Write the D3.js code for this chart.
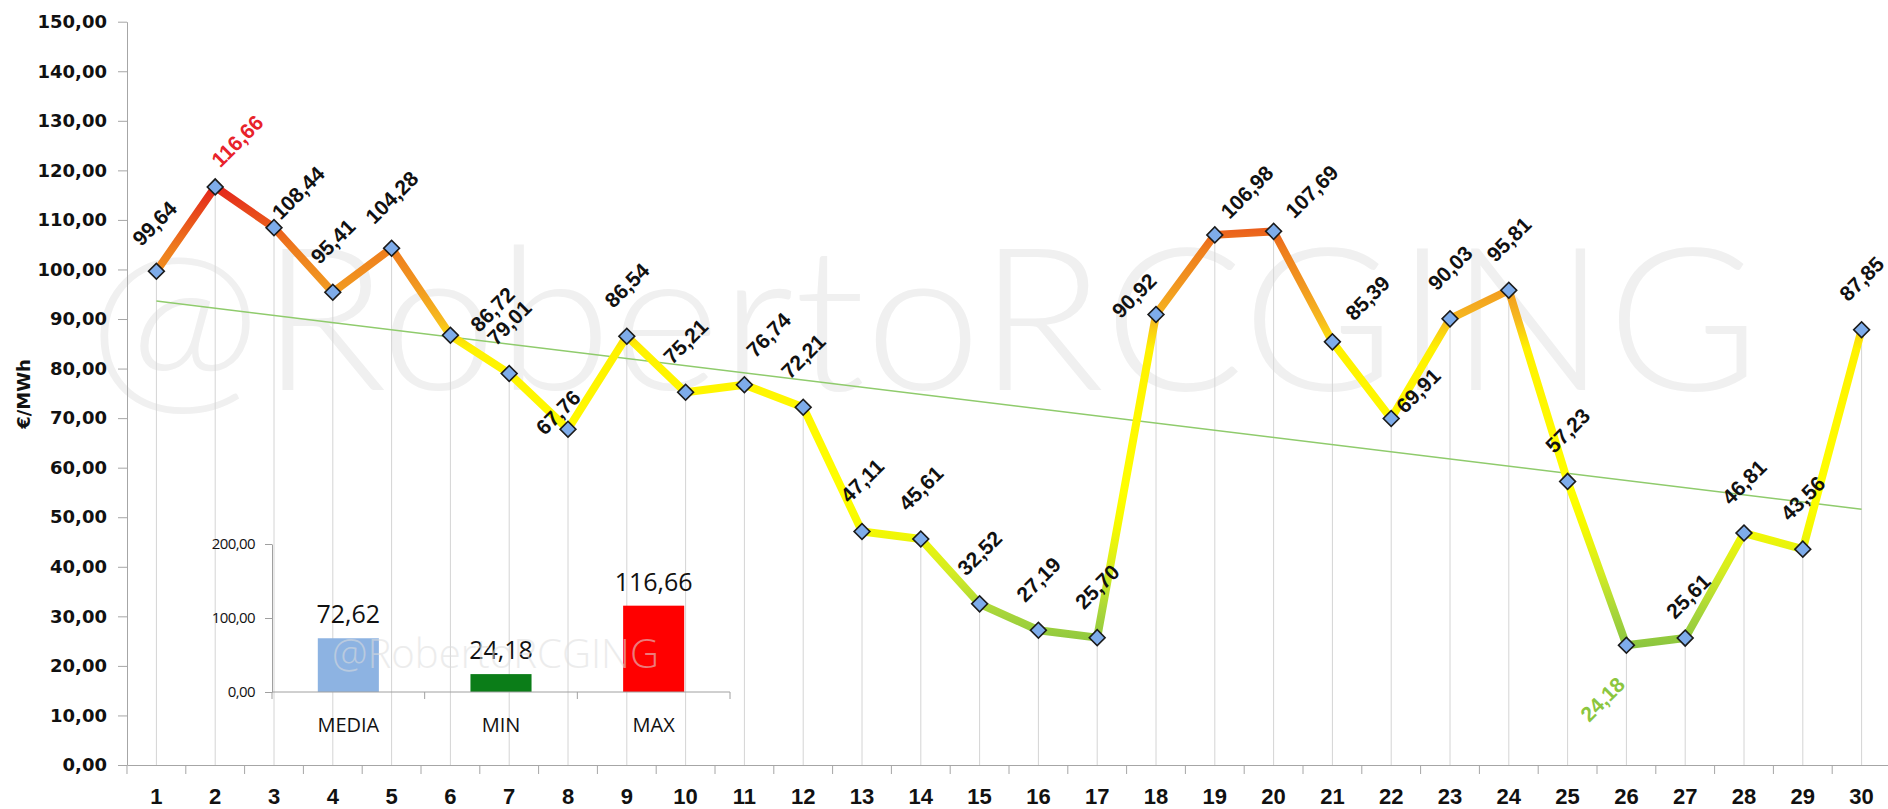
<!DOCTYPE html>
<html>
<head>
<meta charset="utf-8">
<script src="https://cdn.jsdelivr.net/npm/d3@7"></script>
<style>
    html, body { margin: 0; padding: 0; background: #fff; }
    svg { display: block; }
    .tick-y text, .ytitle { font-family: "DejaVu Sans", sans-serif; font-weight: 700; }
    .dlabel { font-family: "Liberation Sans", Arial, sans-serif; font-weight: 700; }
    .tick-x text { font-family: "Liberation Sans", Arial, sans-serif; font-weight: 700; }
    .inset text { font-family: "Open Sans", sans-serif; }
</style>
</head>
<body>
<svg id="chart" width="1888" height="809"></svg>
<script>
// daily price, €/MWh
const days = [1, 2, 3, 4, 5, 6, 7, 8, 9, 10, 11, 12, 13, 14, 15, 16, 17, 18, 19, 20, 21, 22, 23, 24, 25, 26, 27, 28, 29, 30];
const prices = [99.64, 116.66, 108.44, 95.41, 104.28, 86.72, 79.01, 67.76, 86.54, 75.21, 76.74, 72.21, 47.11, 45.61, 32.52,
    27.19, 25.70, 90.92, 106.98, 107.69, 85.39, 69.91, 90.03, 95.81, 57.23, 24.18, 25.61, 46.81, 43.56, 87.85];
const yTicks = [0, 10, 20, 30, 40, 50, 60, 70, 80, 90, 100, 110, 120, 130, 140, 150];

// inset summary
const statNames = ["MEDIA", "MIN", "MAX"];
const statValues = [72.62, 24.18, 116.66];
const statColors = ["#8db3e2", "#0b7d18", "#ff0000"];
const insetTicks = [0, 100, 200];

// colour of the line by price level
const gradStops = [
    [0, "#7fc244"], [24, "#8cc63f"], [31, "#a8d63a"], [39, "#d4ec22"], [48, "#f6f900"], [55, "#ffff00"],
    [84, "#fff200"], [90, "#f6b81f"], [97, "#f19620"], [104, "#ee7d1d"], [110, "#e9521b"], [117, "#e3231b"], [150, "#e3231b"],
];

// label nudges (dx, dy from the point) where the original labels were moved by hand
const labelNudge = {
    1: [-2, -48], 2: [22, -46], 3: [24, -35], 6: [42, -26], 8: [-10, -17], 11: [24, -50],
    18: [-22, -19], 19: [32, -43], 20: [38, -40], 21: [35, -44], 22: [27, -28], 26: [-24, 54], 27: [3, -42],
};

const fmt = (v) => d3.format(".2f")(v).replace(".", ",");

const svg = d3.select("#chart");
const x = d3.scaleBand().domain(days).range([127, 1891]);
const bw = x.bandwidth();
const cx = (d) => x(d) + bw / 2;
const y = d3.scaleLinear().domain([0, 150]).range([765, 21.7]);

const pts = days.map((d, i) => ({ day: d, v: prices[i] }));

// watermark
svg.append("text")
    .attr("x", 88).attr("y", 390)
    .attr("textLength", 1672).attr("lengthAdjust", "spacingAndGlyphs")
    .attr("font-family", "Lato, 'Open Sans', sans-serif").attr("font-weight", 300)
    .attr("font-size", 200).attr("fill", "#f0f0f0")
    .text("@RobertoRCGING");

// drop lines
svg.append("g").selectAll("line").data(pts).join("line")
    .attr("x1", (d) => cx(d.day)).attr("x2", (d) => cx(d.day))
    .attr("y1", (d) => y(d.v)).attr("y2", y(0))
    .attr("stroke", "#d4d4d4").attr("stroke-width", 1);

// linear trend line
const mx = d3.mean(days), my = d3.mean(prices);
const slope = d3.sum(days, (d, i) => (d - mx) * (prices[i] - my)) / d3.sum(days, (d) => (d - mx) ** 2);
const icpt = my - slope * mx;
svg.append("line")
    .attr("x1", cx(days[0])).attr("y1", y(icpt + slope * days[0]))
    .attr("x2", cx(days[days.length - 1])).attr("y2", y(icpt + slope * days[days.length - 1]))
    .attr("stroke", "#8fcb6c").attr("stroke-width", 1.5);

// inset bar chart
const inset = svg.append("g").attr("class", "inset");
const xi = d3.scaleBand().domain(statNames).range([272, 730]);
const yi = d3.scaleLinear().domain([0, 200]).range([692, 544]);
const barW = xi.bandwidth() * 0.4;

inset.selectAll("rect").data(statNames).join("rect")
    .attr("x", (d) => xi(d) + xi.bandwidth() / 2 - barW / 2)
    .attr("y", (d, i) => yi(statValues[i]))
    .attr("width", barW)
    .attr("height", (d, i) => yi(0) - yi(statValues[i]))
    .attr("fill", (d, i) => statColors[i]);

inset.selectAll(".sval").data(statNames).join("text")
    .attr("class", "sval")
    .attr("x", (d) => xi(d) + xi.bandwidth() / 2)
    .attr("y", (d, i) => yi(statValues[i]) - 15)
    .attr("text-anchor", "middle").attr("font-size", 25).attr("fill", "#111")
    .text((d, i) => fmt(statValues[i]));

inset.selectAll(".sname").data(statNames).join("text")
    .attr("class", "sname")
    .attr("x", (d) => xi(d) + xi.bandwidth() / 2)
    .attr("y", 732)
    .attr("text-anchor", "middle").attr("font-size", 20).attr("fill", "#111")
    .text((d) => d);

const giy = inset.append("g").attr("transform", "translate(272,0)")
    .call(d3.axisLeft(yi).tickValues(insetTicks).tickSize(7).tickSizeOuter(0).tickPadding(10).tickFormat(fmt));
giy.select(".domain").attr("stroke", "#a0a0a0");
giy.selectAll(".tick line").attr("stroke", "#a0a0a0");
giy.selectAll(".tick text").attr("font-size", 15).attr("letter-spacing", -0.6).attr("fill", "#111")
    .attr("font-family", "'Open Sans', sans-serif");

const gix = inset.append("g").attr("transform", `translate(0,${yi(0)})`);
gix.append("line").attr("x1", 272).attr("x2", 730).attr("stroke", "#a0a0a0");
gix.selectAll(".bt").data(statNames.concat(["end"])).join("line")
    .attr("class", "bt")
    .attr("x1", (d, i) => xi.range()[0] + i * xi.step()).attr("x2", (d, i) => xi.range()[0] + i * xi.step())
    .attr("y1", 0).attr("y2", 7).attr("stroke", "#a0a0a0");

inset.append("text")
    .attr("x", 332).attr("y", 668)
    .attr("textLength", 327).attr("lengthAdjust", "spacingAndGlyphs")
    .attr("font-family", "Lato, 'Open Sans', sans-serif").attr("font-weight", 300)
    .attr("font-size", 40).attr("fill", "#dedede").attr("opacity", 0.55)
    .text("@RobertoRCGING");

// gradient for the price line
const grad = svg.append("defs").append("linearGradient")
    .attr("id", "lineGrad").attr("gradientUnits", "userSpaceOnUse")
    .attr("x1", 0).attr("x2", 0).attr("y1", y(0)).attr("y2", y(150));
grad.selectAll("stop").data(gradStops).join("stop")
    .attr("offset", (d) => d[0] / 150)
    .attr("stop-color", (d) => d[1]);

const line = d3.line().x((d) => cx(d.day)).y((d) => y(d.v));
svg.append("path")
    .datum(pts)
    .attr("d", line)
    .attr("fill", "none")
    .attr("stroke", "url(#lineGrad)")
    .attr("stroke-width", 8)
    .attr("stroke-linejoin", "round");

svg.append("g").selectAll("path").data(pts).join("path")
    .attr("d", d3.symbol(d3.symbolSquare, 125))
    .attr("transform", (d) => `translate(${cx(d.day)},${y(d.v)}) rotate(45)`)
    .attr("fill", "#7eacea")
    .attr("stroke", "#1b1b1b")
    .attr("stroke-width", 1.6);

// data labels
const vMax = d3.max(prices), vMin = d3.min(prices);
svg.append("g").selectAll("text").data(pts).join("text")
    .attr("class", "dlabel")
    .attr("transform", (d) => {
        const n = labelNudge[d.day] || [0, -51];
        return `translate(${cx(d.day) + n[0]},${y(d.v) + n[1]}) rotate(-45)`;
    })
    .attr("text-anchor", "middle")
    .attr("dy", "0.36em")
    .attr("font-size", 21)
    .attr("fill", (d) => d.v === vMax ? "#e8232b" : d.v === vMin ? "#8cc63f" : "#111")
    .text((d) => fmt(d.v));

// axes
const gy = svg.append("g").attr("class", "tick-y").attr("transform", "translate(127,0)")
    .call(d3.axisLeft(y).tickValues(yTicks).tickSize(9).tickSizeOuter(0).tickPadding(11).tickFormat(fmt));
gy.select(".domain").attr("stroke", "#a6a6a6");
gy.selectAll(".tick line").attr("stroke", "#a6a6a6");
gy.selectAll(".tick text").attr("font-size", 18).attr("fill", "#111");

const gx = svg.append("g").attr("class", "tick-x").attr("transform", `translate(0,${y(0)})`)
    .call(d3.axisBottom(x).tickSize(9).tickSizeOuter(0).tickPadding(14));
gx.select(".domain").attr("stroke", "#a6a6a6");
gx.selectAll(".tick line").attr("stroke", "#a6a6a6").attr("transform", `translate(${-bw / 2},0)`);
gx.selectAll(".tick text").attr("font-size", 22).attr("fill", "#111");

svg.append("text")
    .attr("class", "ytitle")
    .attr("transform", "translate(24,394) rotate(-90)")
    .attr("text-anchor", "middle").attr("dy", "0.35em")
    .attr("font-size", 18).attr("fill", "#111")
    .text("€/MWh");
</script>
</body>
</html>
